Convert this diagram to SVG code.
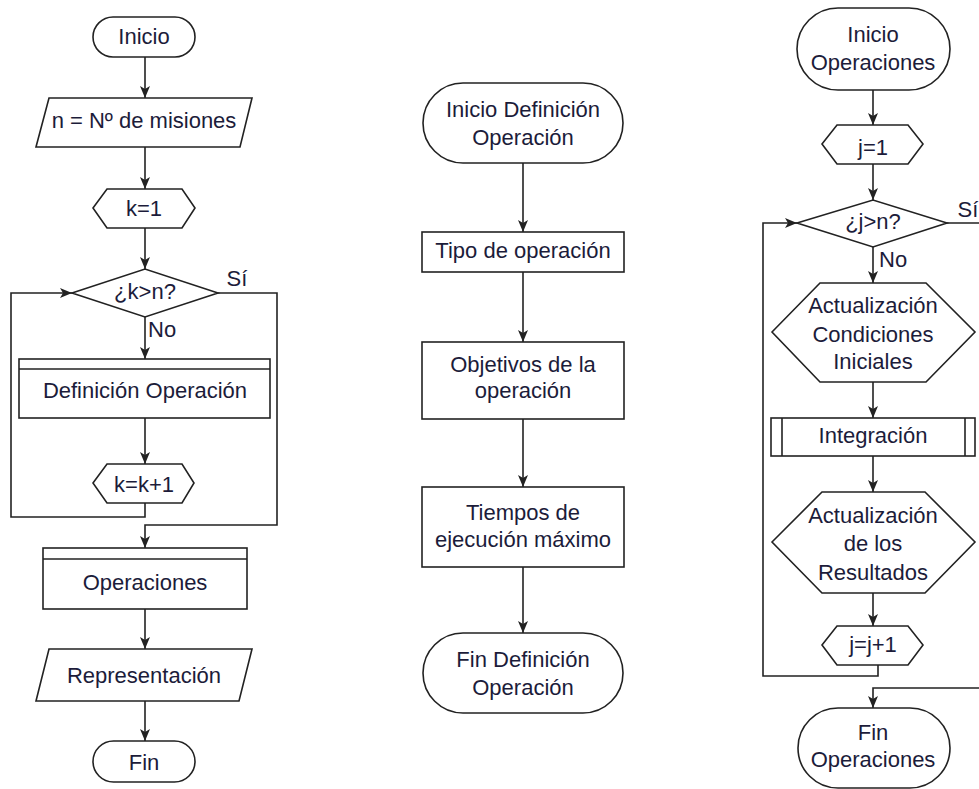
<svg xmlns="http://www.w3.org/2000/svg" width="979" height="789" viewBox="0 0 979 789">
<style>
.s{fill:#fff;stroke:#222;stroke-width:1.6}
.c{fill:none;stroke:#222;stroke-width:1.6}
text{font-family:"Liberation Sans",Arial,sans-serif;font-size:22px;fill:#1c1c3a;text-anchor:middle}
text.l{text-anchor:start}
</style>
<defs>
<marker id="a" markerUnits="userSpaceOnUse" markerWidth="12" markerHeight="10" refX="12" refY="5" orient="auto">
<path d="M0,0 L12,5 L0,10 L3,5 Z" fill="#222"/>
</marker>
</defs>
<rect width="979" height="789" fill="#fff"/>
<g id="connectors" class="c" marker-end="url(#a)">
<path class="c" d="M145,57 V98" marker-end="url(#a)"/>
<path class="c" d="M145,147 V189" marker-end="url(#a)"/>
<path class="c" d="M145,228 V269" marker-end="url(#a)"/>
<path class="c" d="M145,317 V359" marker-end="url(#a)"/>
<path class="c" d="M145,418 V464" marker-end="url(#a)"/>
<path class="c" d="M145,503 V517 H11 V293 H72" marker-end="url(#a)"/>
<path class="c" d="M218,293 H277 V525 H145 V548" marker-end="url(#a)"/>
<path class="c" d="M145,609 V649" marker-end="url(#a)"/>
<path class="c" d="M145,701 V741" marker-end="url(#a)"/>
<path class="c" d="M523,163 V232" marker-end="url(#a)"/>
<path class="c" d="M523,272 V342" marker-end="url(#a)"/>
<path class="c" d="M523,419 V487" marker-end="url(#a)"/>
<path class="c" d="M523,567 V633" marker-end="url(#a)"/>
<path class="c" d="M873,90 V125" marker-end="url(#a)"/>
<path class="c" d="M873,164 V200" marker-end="url(#a)"/>
<path class="c" d="M873,247 V283" marker-end="url(#a)"/>
<path class="c" d="M873,382 V418" marker-end="url(#a)"/>
<path class="c" d="M873,456 V492" marker-end="url(#a)"/>
<path class="c" d="M873,593 V626" marker-end="url(#a)"/>
<path class="c" d="M878,665 V676 H763 V223 H797" marker-end="url(#a)"/>
<path class="c" d="M947,223 H986 V688 H873 V708" marker-end="url(#a)"/>
</g>
<g id="labels">
<text x="237" y="286">Sí</text>
<text class="l" x="148" y="337">No</text>
<text x="968" y="217">Sí</text>
<text class="l" x="879" y="267">No</text>
</g>
<g id="inicio"><rect class="s" x="93" y="17" width="102" height="40" rx="20"/><text x="144" y="44">Inicio</text></g>
<g id="n-misiones"><path class="s" d="M49,98 H252 L240,147 H36 Z"/><text x="144" y="128">n = Nº de misiones</text></g>
<g id="k1"><path class="s" d="M93,208 L107,189 H182 L195,208 L182,228 H107 Z"/><text x="144" y="216">k=1</text></g>
<g id="kn"><path class="s" d="M72,293 L145,269 L218,293 L145,317 Z"/><text x="145" y="299">¿k&gt;n?</text></g>
<g id="def-op"><rect class="s" x="19" y="359" width="251" height="59"/><path class="c" d="M19,369 H270"/><text x="145" y="398">Definición Operación</text></g>
<g id="kk1"><path class="s" d="M93,483 L107,464 H182 L194,483 L182,503 H107 Z"/><text x="144" y="492">k=k+1</text></g>
<g id="operaciones"><rect class="s" x="43" y="548" width="204" height="61"/><path class="c" d="M43,559 H247"/><text x="145" y="590">Operaciones</text></g>
<g id="representacion"><path class="s" d="M49,649 H252 L239,701 H36 Z"/><text x="144" y="683">Representación</text></g>
<g id="fin"><rect class="s" x="93" y="741" width="102" height="41" rx="20.5"/><text x="144" y="770">Fin</text></g>

<g id="inicio-def"><rect class="s" x="423" y="83" width="200" height="80" rx="40"/><text x="523" y="117">Inicio Definición</text><text x="523" y="145">Operación</text></g>
<g id="tipo"><rect class="s" x="422" y="232" width="202" height="40"/><text x="523" y="258">Tipo de operación</text></g>
<g id="objetivos"><rect class="s" x="422" y="342" width="202" height="77"/><text x="523" y="372">Objetivos de la</text><text x="523" y="398">operación</text></g>
<g id="tiempos"><rect class="s" x="422" y="487" width="202" height="80"/><text x="523" y="520">Tiempos de</text><text x="523" y="547">ejecución máximo</text></g>
<g id="fin-def"><rect class="s" x="423" y="633" width="200" height="80" rx="40"/><text x="523" y="667">Fin Definición</text><text x="523" y="695">Operación</text></g>

<g id="inicio-op"><rect class="s" x="797" y="8" width="153" height="82" rx="41"/><text x="873" y="42">Inicio</text><text x="873" y="70">Operaciones</text></g>
<g id="j1"><path class="s" d="M822,144 L837,125 H908 L923,144 L908,164 H837 Z"/><text x="873" y="155">j=1</text></g>
<g id="jn"><path class="s" d="M797,223 L873,200 L947,223 L873,247 Z"/><text x="873" y="229">¿j&gt;n?</text></g>
<g id="act-cond"><path class="s" d="M772,332 L820,283 H926 L975,332 L926,382 H820 Z"/><text x="873" y="313">Actualización</text><text x="873" y="342">Condiciones</text><text x="873" y="369">Iniciales</text></g>
<g id="integracion"><rect class="s" x="771" y="418" width="204" height="38"/><path class="c" d="M782,418 V456 M965,418 V456"/><text x="873" y="443">Integración</text></g>
<g id="act-res"><path class="s" d="M772,542 L822,492 H925 L975,542 L925,593 H822 Z"/><text x="873" y="523">Actualización</text><text x="873" y="551">de los</text><text x="873" y="580">Resultados</text></g>
<g id="jj1"><path class="s" d="M822,645 L837,626 H908 L923,645 L908,665 H837 Z"/><text x="873" y="652">j=j+1</text></g>
<g id="fin-op"><rect class="s" x="798" y="708" width="152" height="80" rx="40"/><text x="873" y="740">Fin</text><text x="873" y="767">Operaciones</text></g>
</svg>
